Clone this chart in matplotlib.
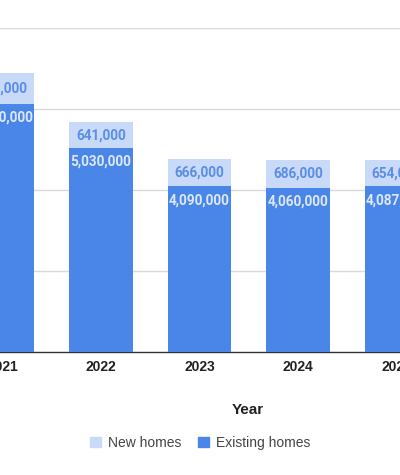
import numpy as np
import matplotlib
matplotlib.use("Agg")
import matplotlib.pyplot as plt
from matplotlib.patches import Patch

plt.rcParams['font.family'] = ['Liberation Sans', 'DejaVu Sans']

years = ['2021', '2022', '2023', '2024', '2025']
existing = [6120000, 5030000, 4090000, 4060000, 4087000]
new = [771000, 641000, 666000, 686000, 654000]

c_new = '#c9daf8'
c_exist = '#4a86e8'

fig = plt.figure(figsize=(4, 4.75), dpi=100)
# axes deliberately wider than the figure (chart is cropped on both sides)
ax = fig.add_axes([0, 123 / 475, 1, 324 / 475])

x = np.arange(len(years))
width = 0.64
ax.bar(x, existing, width=width, color=c_exist, zorder=3)
ax.bar(x, new, width=width, bottom=existing, color=c_new, zorder=3)

for xi, e, n in zip(x, existing, new):
    ax.text(xi, e - 340000, '{:,}'.format(e), ha='center', va='center',
            fontsize=9.8, fontweight='bold', color='#dce7fb', family='Roboto', zorder=4)
    ax.text(xi, e + n / 2, '{:,}'.format(n), ha='center', va='center',
            fontsize=9.8, fontweight='bold', color='#5b8ee6', family='Roboto', zorder=4)

ax.set_xlim(-2.5 / 98.5, 397.5 / 98.5)
ax.set_ylim(0, 8000000)
ax.set_yticks([2000000, 4000000, 6000000, 8000000])
ax.yaxis.grid(True, color='#d9d9d9', linewidth=1)
ax.set_axisbelow(True)
for s in ['left', 'right', 'top']:
    ax.spines[s].set_visible(False)
ax.spines['bottom'].set_color('#333333')
ax.spines['bottom'].set_linewidth(1)
ax.tick_params(axis='y', left=False, labelleft=False)
ax.set_xticks(x)
ax.set_xticklabels(years, fontsize=10, fontweight='bold', color='#222222')
ax.tick_params(axis='x', length=0, pad=6)

fig.text(248 / 400, 1 - 410 / 475, 'Year', ha='center', va='center',
         fontsize=11, fontweight='bold', color='#222222')

handles = [Patch(color=c_new, label='New homes'), Patch(color=c_exist, label='Existing homes')]
fig.legend(handles=handles, loc='center', bbox_to_anchor=(0.5, 1 - 443 / 475), ncol=2,
           frameon=False, fontsize=10, handlelength=0.8, handleheight=0.8,
           handletextpad=0.5, columnspacing=1.2, labelcolor='#444444')

fig.savefig('out.png', dpi=100)
